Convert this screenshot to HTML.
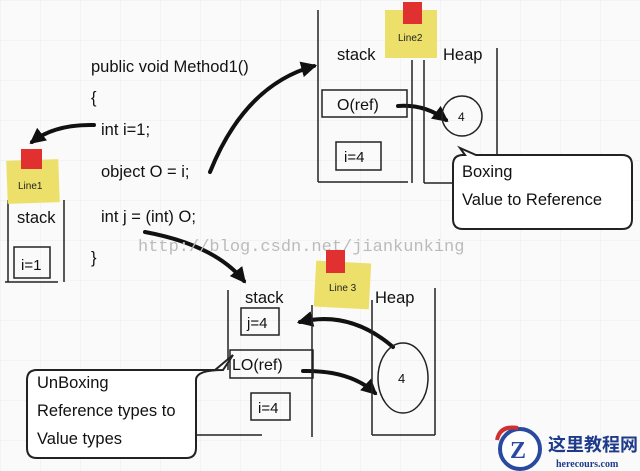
<!DOCTYPE html>
<html><head><meta charset="utf-8"><style>
html,body{margin:0;padding:0;background:#fafafa;}
svg{display:block;font-family:"Liberation Sans",sans-serif;}
</style></head><body>
<svg width="640" height="471" viewBox="0 0 640 471" xmlns="http://www.w3.org/2000/svg">
<defs>
<pattern id="g" width="40" height="40" patternUnits="userSpaceOnUse">
<path d="M0 0H40M0 0V40" stroke="#ececec" stroke-width="1" fill="none"/>
</pattern>
<marker id="ah" viewBox="0 0 10 10" refX="8" refY="5" markerWidth="4" markerHeight="4" orient="auto">
<path d="M0 0L10 5L0 10z" fill="#111"/>
</marker>
</defs>
<rect width="640" height="471" fill="#fafafa"/>
<rect width="640" height="471" fill="url(#g)"/>

<g font-size="16.5" fill="#111">
<text x="91" y="72">public void Method1()</text>
<text x="91" y="103">{</text>
<text x="101" y="135">int i=1;</text>
<text x="101" y="177">object O = i;</text>
<text x="101" y="222">int j = (int) O;</text>
<text x="91" y="263">}</text>
</g>

<g stroke="#111" stroke-width="4" fill="none" stroke-linecap="round" marker-end="url(#ah)">
<path d="M94 125 Q55 124 32 142"/>
<path d="M210 172 Q245 85 314 66"/>
<path d="M398 106 Q425 104 446 120"/>
<path d="M145 232 Q215 245 244 281"/>
<path d="M393 347 Q350 310 300 322"/>
<path d="M303 371 Q350 370 375 393"/>
</g>

<!-- left stack -->
<g stroke="#222" stroke-width="1.5" fill="none">
<path d="M8 200V282M64 200V282M5 282H58"/>
<rect x="14" y="247" width="36" height="31"/>
</g>
<rect x="7" y="160" width="52" height="43" fill="#ece06a" transform="rotate(-2 33 181)"/>
<rect x="21" y="149" width="21" height="20" fill="#e03030"/>
<text x="18" y="189" font-size="10" fill="#222">Line1</text>
<text x="17" y="223" font-size="16.5" fill="#111">stack</text>
<text x="21" y="270" font-size="15" fill="#111">i=1</text>

<!-- top stack/heap -->
<g stroke="#222" stroke-width="1.5" fill="none">
<path d="M318 10V182M412 60V183M318 182H408M424 60V183M424 183H456M497 48V160"/>
<rect x="322" y="90" width="85" height="27"/>
<rect x="336" y="142" width="45" height="28"/>
<circle cx="462" cy="116" r="20"/>
</g>
<rect x="385" y="10" width="52" height="48" fill="#ece06a"/>
<rect x="403" y="2" width="19" height="22" fill="#e03030"/>
<text x="398" y="41" font-size="10" fill="#222">Line2</text>
<text x="337" y="60" font-size="16.5" fill="#111">stack</text>
<text x="443" y="60" font-size="16.5" fill="#111">Heap</text>
<text x="337" y="110" font-size="16" fill="#111">O(ref)</text>
<text x="344" y="162" font-size="15" fill="#111">i=4</text>
<text x="458" y="121" font-size="12" fill="#111">4</text>
<path d="M465 155 L460 148 L476 155 H622 Q632 155 632 165 V219 Q632 229 622 229 H463 Q453 229 453 219 V165 Q453 155 463 155Z" fill="#fff" stroke="#222" stroke-width="2"/>
<text x="462" y="177" font-size="16.5" fill="#111">Boxing</text>
<text x="462" y="205" font-size="16.5" fill="#111">Value to Reference</text>

<text x="138" y="251" font-size="17" fill="#bbb" font-family="'Liberation Mono',monospace">http://blog.csdn.net/jiankunking</text>

<!-- bottom stack/heap -->
<g stroke="#222" stroke-width="1.5" fill="none">
<path d="M228 290V370M312 305V437M190 435H262M372 300V435M435 288V435M372 435H435"/>
<rect x="241" y="308" width="38" height="27"/>
<rect x="230" y="350" width="83" height="28"/>
<rect x="251" y="393" width="39" height="27"/>
<ellipse cx="403" cy="378" rx="25" ry="35"/>
</g>
<rect x="315" y="262" width="55" height="46" fill="#ece06a" transform="rotate(3 342 285)"/>
<rect x="326" y="250" width="19" height="23" fill="#e03030"/>
<text x="329" y="291" font-size="10" fill="#222">Line 3</text>
<text x="245" y="303" font-size="16.5" fill="#111">stack</text>
<text x="375" y="303" font-size="16.5" fill="#111">Heap</text>
<text x="247" y="328" font-size="15" fill="#111">j=4</text>
<text x="232" y="370" font-size="16" fill="#111">LO(ref)</text>
<text x="258" y="413" font-size="15" fill="#111">i=4</text>
<text x="398" y="383" font-size="13" fill="#111">4</text>
<path d="M37 370 H215 L233 355 L223 370 Q196 370 196 380 V448 Q196 458 186 458 H37 Q27 458 27 448 V380 Q27 370 37 370Z" fill="#fff" stroke="#222" stroke-width="2"/>
<text x="37" y="388" font-size="16.5" fill="#111">UnBoxing</text>
<text x="37" y="416" font-size="16.5" fill="#111">Reference types to</text>
<text x="37" y="444" font-size="16.5" fill="#111">Value types</text>

<!-- logo -->
<circle cx="520" cy="449" r="20" fill="#fff" stroke="#2a4aa0" stroke-width="4"/>
<path d="M497 440 Q500 425 518 428" stroke="#d03030" stroke-width="4" fill="none"/>
<text x="510" y="458" font-size="24" font-weight="bold" fill="#2a4aa0" font-family="'Liberation Serif',serif">Z</text>
<text x="548" y="451" font-size="18" font-weight="bold" fill="#1e3a8a" font-family="'Liberation Sans','Noto Sans CJK SC',sans-serif">这里教程网</text>
<text x="556" y="467" font-size="10" font-weight="bold" fill="#1e3a8a" font-family="'Liberation Serif',serif">herecours.com</text>
</svg>
</body></html>
